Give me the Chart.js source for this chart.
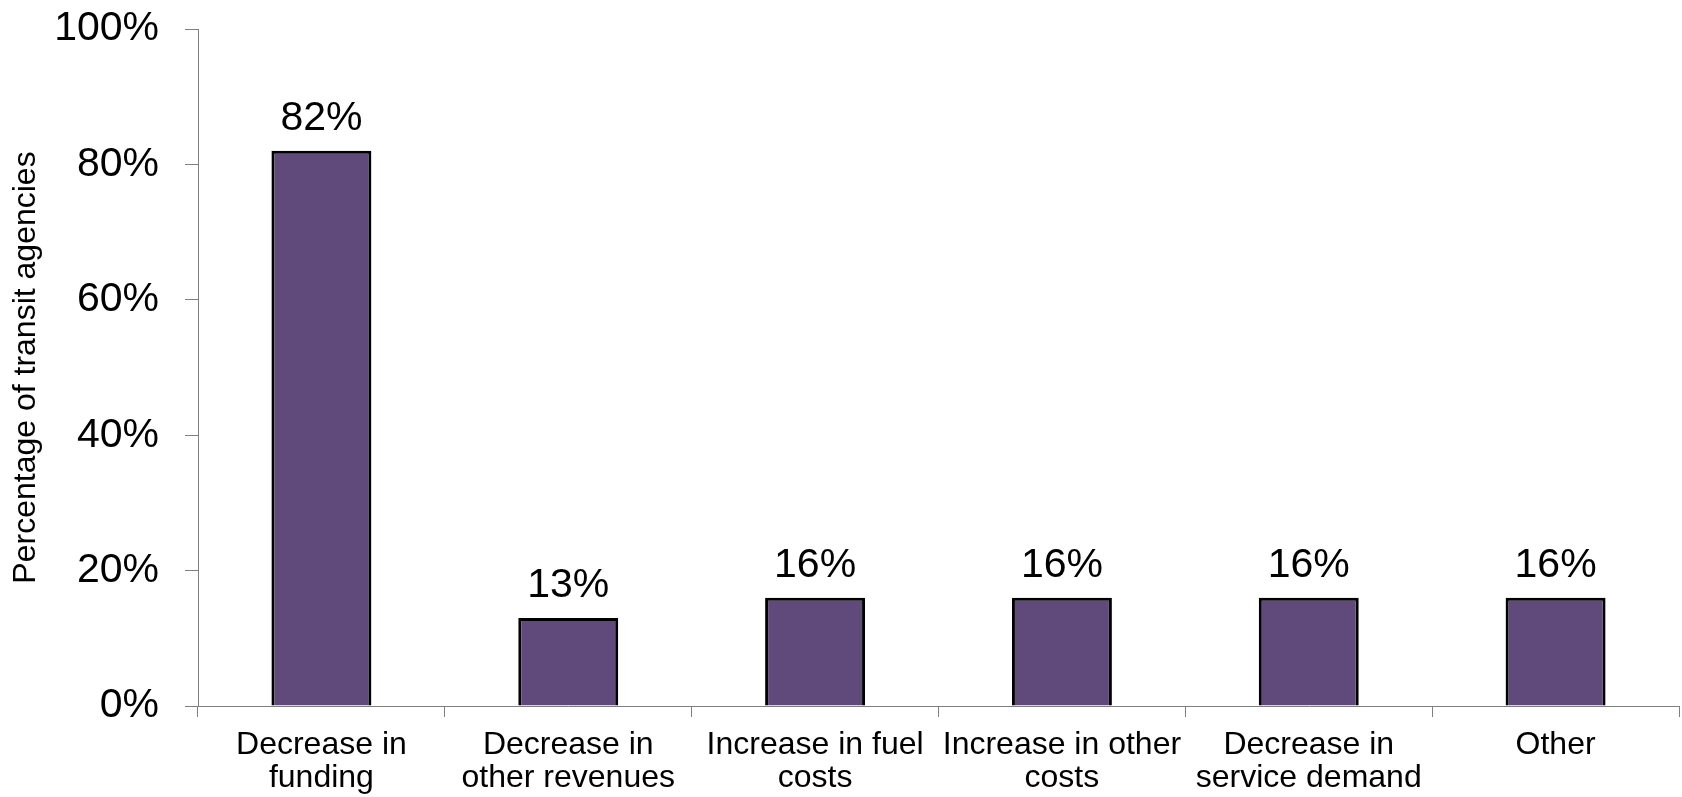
<!DOCTYPE html>
<html>
<head>
<meta charset="utf-8">
<script src="https://cdn.jsdelivr.net/npm/chart.js@4/dist/chart.umd.min.js"></script>
<style>
  html, body { margin: 0; padding: 0; background: #fff; }
  #wrap { width: 1682px; height: 797px; }
</style>
</head>
<body>
<div id="wrap"><canvas id="chart" width="1682" height="797"></canvas></div>
<script>
const categories = [
    ["Decrease in", "funding"],
    ["Decrease in", "other revenues"],
    ["Increase in fuel", "costs"],
    ["Increase in other", "costs"],
    ["Decrease in", "service demand"],
    ["Other"],
];
const shares = [82, 13, 16, 16, 16, 16];
const yTicks = [0, 20, 40, 60, 80, 100];

const axisGray = "#7f7f7f";
const fontFam = "'Liberation Sans', Arial, sans-serif";

// value labels above each bar
const barLabels = {
    id: "barLabels",
    afterDatasetsDraw(chart) {
        const ctx = chart.ctx;
        const meta = chart.getDatasetMeta(0);
        ctx.save();
        ctx.font = "41px " + fontFam;
        ctx.fillStyle = "#000";
        ctx.textAlign = "center";
        ctx.textBaseline = "alphabetic";
        meta.data.forEach((bar, i) => {
            ctx.fillText(shares[i] + "%", bar.x, bar.y - 21);
        });
        ctx.restore();
    },
};

new Chart(document.getElementById("chart"), {
    type: "bar",
    data: {
        labels: categories,
        datasets: [{
            data: shares,
            backgroundColor: "#5f4a7b",
            borderColor: "#000",
            borderWidth: 3,
            categoryPercentage: 1,
            barPercentage: 0.405,
        }],
    },
    options: {
        responsive: false,
        animation: false,
        layout: { padding: { top: 29, right: 3, left: 0, bottom: 0 } },
        plugins: {
            legend: { display: false },
            tooltip: { enabled: false },
        },
        scales: {
            x: {
                grid: {
                    offset: true,
                    drawOnChartArea: false,
                    tickLength: 11,
                    color: axisGray,
                },
                border: { color: axisGray, width: 1 },
                ticks: {
                    color: "#000",
                    padding: 11,
                    maxRotation: 0,
                    autoSkip: false,
                    font: { family: fontFam, size: 32, lineHeight: 1.05 },
                },
                afterFit(scale) { scale.height = 91; },
            },
            y: {
                min: 0,
                max: 100,
                afterBuildTicks(scale) {
                    scale.ticks = yTicks.map(v => ({ value: v }));
                },
                grid: {
                    drawOnChartArea: false,
                    tickLength: 13,
                    color: axisGray,
                },
                border: { color: axisGray, width: 1 },
                ticks: {
                    color: "#000",
                    padding: 26,
                    font: { family: fontFam, size: 41 },
                    callback: v => v + "%",
                },
                title: {
                    display: true,
                    text: "Percentage of transit agencies",
                    color: "#000",
                    font: { family: fontFam, size: 32 },
                    padding: { top: 7, bottom: 0 },
                },
                afterFit(scale) {
                    scale.width = 198;
                    scale.paddingTop = 0;
                    scale.paddingBottom = 0;
                },
            },
        },
    },
    plugins: [barLabels],
});
</script>
</body>
</html>
